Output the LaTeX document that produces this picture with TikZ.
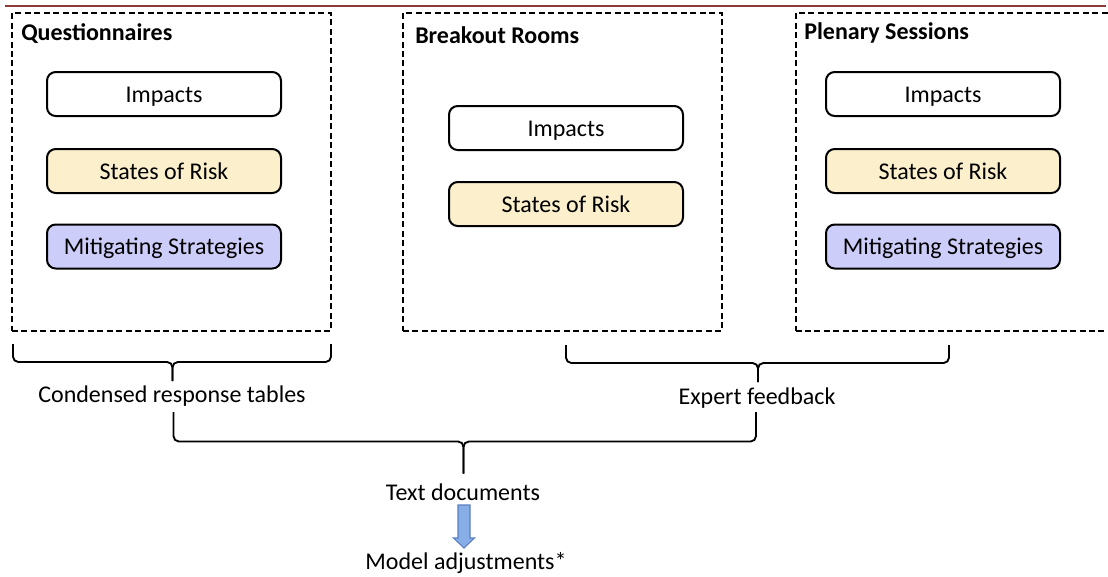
\documentclass[tikz,border=0pt]{standalone}
\usepackage{fontspec}
\setmainfont{Carlito}
\usetikzlibrary{calc}
\definecolor{riskfill}{HTML}{FCF0CC}
\definecolor{mitfill}{HTML}{CDCDFA}
\definecolor{arrfill}{HTML}{88AEE8}
\definecolor{arrdraw}{HTML}{5A7EC0}
\definecolor{topline}{HTML}{8B3A3A}
\tikzset{
  grp/.style={draw, dashed, dash pattern=on 4.5pt off 2.6pt, line width=1.5pt,
              minimum width=239.25pt, minimum height=238.5pt, inner sep=0pt},
  grptitle/.style={anchor=base west, inner sep=0pt, font=\fontsize{18}{21}\selectfont\bfseries},
  item/.style={draw, line width=1.5pt, rounded corners=6.5pt, minimum width=175.5pt,
               minimum height=33pt, inner sep=0pt, text height=13pt, text depth=0.5pt,
               font=\fontsize{18}{21}\selectfont},
  impact/.style={item, fill=white},
  risk/.style={item, fill=riskfill},
  mitig/.style={item, fill=mitfill},
  lbl/.style={inner sep=0pt, font=\fontsize{18}{21}\selectfont},
  bracestyle/.style={line width=1.4pt, rounded corners=4pt},
}
\begin{document}
\begin{tikzpicture}[x=0.75pt,y=-0.75pt]
\useasboundingbox (0,0) rectangle (1108,576);
\clip (0,0) rectangle (1108,576);
% top rule
\coordinate (tl) at (5,6);
\coordinate (tr) at (1106,6);
\draw[topline, line width=0.8pt] (tl) -- (tr);

% groups
\node[grp] (qbox) at (171.5,172) {};
\node[grptitle] (qtitle) at (21,40) {Questionnaires};
\node[impact] (qimp) at (164,94) {Impacts};
\node[risk] (qrisk) at (164,171) {States of Risk};
\node[mitig] (qmit) at (164,246.5) {Mitigating Strategies};

\node[grp] (bbox) at (562.5,172) {};
\node[grptitle] (btitle) at (415,43) {Breakout Rooms};
\node[impact] (bimp) at (566,128) {Impacts};
\node[risk] (brisk) at (566,204) {States of Risk};

\node[grp] (pbox) at (955,172) {};
\node[grptitle] (ptitle) at (804,39.5) {Plenary Sessions};
\node[impact] (pimp) at (943,94) {Impacts};
\node[risk] (prisk) at (943,171) {States of Risk};
\node[mitig] (pmit) at (943,246.5) {Mitigating Strategies};

% labels
\node[lbl] (cond) at (172,396) {Condensed response tables};
\node[lbl] (expert) at (757,398) {Expert feedback};
\node[lbl] (textdoc) at (463,492) {Text documents};
\node[lbl] (model) at (466,563) {Model adjustments*};

% brace 1
\coordinate (b1l) at (13,344);
\coordinate (b1r) at (331,344);
\coordinate (b1m) at (172.5,362);
\coordinate (b1t) at (172.5,381);
\draw[bracestyle] (b1l) |- (b1m) -- (b1t);
\draw[bracestyle] (b1r) |- (b1m) -- (b1t);
% brace 2
\coordinate (b2l) at (566,345);
\coordinate (b2r) at (949,345);
\coordinate (b2m) at (758,363);
\coordinate (b2t) at (758,382);
\draw[bracestyle] (b2l) |- (b2m) -- (b2t);
\draw[bracestyle] (b2r) |- (b2m) -- (b2t);
% brace 3
\coordinate (b3l) at (173.5,412);
\coordinate (b3r) at (756,412);
\coordinate (b3m) at (463.5,441.5);
\coordinate (b3t) at (463.5,473.5);
\draw[bracestyle] (b3l) |- (b3m) -- (b3t);
\draw[bracestyle] (b3r) |- (b3m) -- (b3t);

% block arrow
\coordinate (as) at (464,505);
\coordinate (ae) at (464,548);
\draw[arrdraw, fill=arrfill, line width=0.8pt, line join=miter]
  ($(as)+(-6,0)$) -- ($(as)+(6,0)$) -- ($(ae)+(6,-10)$) -- ($(ae)+(10.5,-10)$)
  -- (ae) -- ($(ae)+(-10.5,-10)$) -- ($(ae)+(-6,-10)$) -- cycle;
\end{tikzpicture}
\end{document}
